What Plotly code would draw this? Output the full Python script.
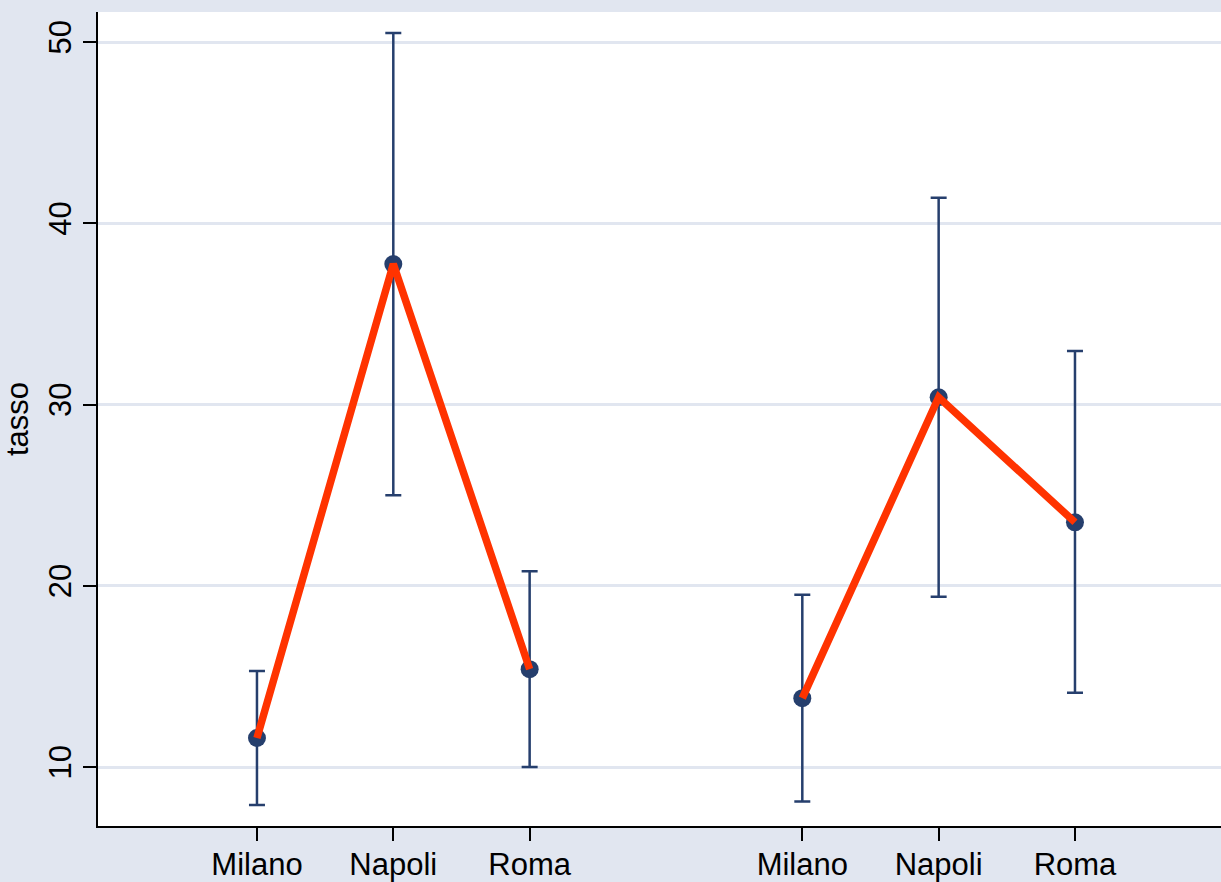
import plotly.graph_objects as go

# Group means and confidence limits of "tasso" by city, two panels side by side
cities = ["Milano", "Napoli", "Roma"]
pos_left = [1, 2, 3]
pos_right = [5, 6, 7]

mean_left = [11.6, 37.75, 15.4]
upper_left = [15.3, 50.5, 20.8]
lower_left = [7.9, 25.0, 10.0]

mean_right = [13.8, 30.4, 23.5]
upper_right = [19.5, 41.4, 32.95]
lower_right = [8.1, 19.4, 14.1]

y_ticks = [10, 20, 30, 40, 50]

NAVY = "#263F6D"
RED = "#FF3300"
BG = "#E1E6F0"
FONT = "Liberation Sans, Arial, sans-serif"

fig = go.Figure()

for pos, mean, up, lo in [
    (pos_left, mean_left, upper_left, lower_left),
    (pos_right, mean_right, upper_right, lower_right),
]:
    fig.add_trace(go.Scatter(
        x=pos, y=mean, mode="markers",
        marker=dict(size=18, color=NAVY),
        error_y=dict(
            type="data", symmetric=False,
            array=[u - m for u, m in zip(up, mean)],
            arrayminus=[m - l for m, l in zip(mean, lo)],
            color=NAVY, thickness=2.5, width=8,
        ),
        showlegend=False, hoverinfo="skip",
    ))

for pos, mean in [(pos_left, mean_left), (pos_right, mean_right)]:
    fig.add_trace(go.Scatter(
        x=pos, y=mean, mode="lines",
        line=dict(color=RED, width=7.5),
        showlegend=False, hoverinfo="skip",
    ))

fig.update_layout(
    width=1221, height=882,
    margin=dict(l=98, r=0, t=12, b=56),
    paper_bgcolor=BG, plot_bgcolor="white",
    font=dict(family=FONT, size=31, color="black"),
    xaxis=dict(
        range=[-0.166, 8.071],
        tickmode="array",
        tickvals=pos_left + pos_right,
        ticktext=cities + cities,
        ticks="outside", ticklen=13, tickwidth=1.5, tickcolor="black",
        ticklabelstandoff=-3,
        showline=True, linecolor="black", linewidth=1.5,
        showgrid=False, zeroline=False, automargin=False,
        tickfont=dict(family=FONT, size=31, color="black"),
    ),
    yaxis=dict(
        range=[6.745, 51.655],
        tickmode="array", tickvals=y_ticks,
        ticktext=[str(v) for v in y_ticks],
        tickangle=-90,
        ticks="outside", ticklen=13, tickwidth=1.5, tickcolor="black",
        showline=True, linecolor="black", linewidth=1.5,
        showgrid=True, gridcolor=BG, gridwidth=2.5,
        zeroline=False, automargin=False,
        tickfont=dict(family=FONT, size=31, color="black"),
    ),
)
fig.update_yaxes(
    title_text="tasso",
    title_font=dict(family=FONT, size=31, color="black"),
    title_standoff=6,
)

fig.write_html("out.html")
